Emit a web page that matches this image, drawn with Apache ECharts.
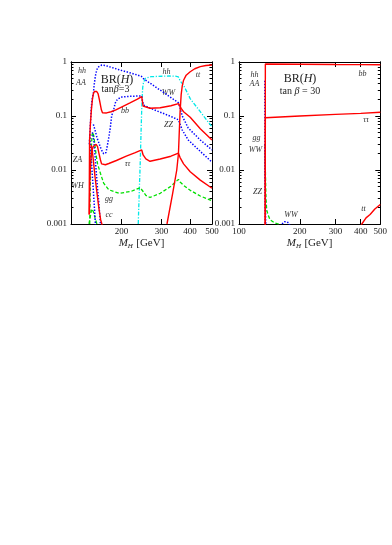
<!DOCTYPE html>
<html>
<head>
<meta charset="utf-8">
<script src="https://cdn.jsdelivr.net/npm/echarts@6/dist/echarts.min.js"></script>
<style>
html, body { margin: 0; padding: 0; background: #fff; }
#chart { width: 392px; height: 545px; }
</style>
</head>
<body>
<div id="chart"></div>
<script>
// tick values
const xTicksLeft = [200, 300, 400, 500];
const xTicksRight = [100, 200, 300, 400, 500];
const yMajor = [0.001, 0.01, 0.1, 1];
const yMinor = [0.002, 0.003, 0.004, 0.005, 0.006, 0.007, 0.008, 0.009,
  0.02, 0.03, 0.04, 0.05, 0.06, 0.07, 0.08, 0.09,
  0.2, 0.3, 0.4, 0.5, 0.6, 0.7, 0.8, 0.9];

// left panel, tan(beta) = 3 : [M_H, BR]
const bbL = [[144.2,0.0015],[144.8,0.035],[146,0.07],[147.5,0.13],[149,0.2],[150.5,0.26],[152,0.285],[153.6,0.29],[155.5,0.285],[157.8,0.26],[160,0.2],[163.2,0.13],[165,0.115],[167.2,0.112],[172,0.114],[180,0.12],[188,0.128],[201,0.148],[218,0.175],[235,0.205],[245.5,0.228],[247,0.19],[249,0.152],[267,0.139],[296,0.142],[330,0.155],[356,0.17],[360,0.16],[366,0.138],[375,0.12],[401,0.095],[444,0.058],[500,0.036]];
const tauL = [[144.5,0.0015],[145.2,0.006],[146.5,0.015],[148,0.022],[150,0.027],[152,0.029],[154.7,0.03],[157,0.027],[159,0.021],[161.6,0.0155],[163.5,0.013],[165.6,0.0124],[170,0.0125],[176,0.0132],[190,0.015],[210,0.018],[230,0.021],[245.5,0.0235],[249,0.019],[256,0.016],[267,0.0145],[296,0.016],[330,0.018],[356,0.0205],[362,0.017],[375,0.013],[401,0.0093],[444,0.0065],[500,0.0046]];
const ttL = [[317,0.001],[335,0.0035],[350,0.01],[356,0.02],[359,0.05],[362,0.12],[366,0.25],[370,0.36],[375,0.46],[385,0.57],[401,0.66],[420,0.75],[444,0.82],[470,0.86],[500,0.88]];
const redFallL = [[147,0.029],[149,0.022],[151,0.013],[153,0.0075],[156,0.0038],[159,0.002],[162,0.0012],[164,0.001],[166,0.0008]];
const wwL = [[144.5,0.03],[146,0.07],[147.5,0.15],[148.5,0.2],[150.5,0.263],[152,0.4],[153.6,0.55],[155.5,0.7],[157.5,0.8],[160,0.86],[164,0.88],[170,0.86],[180,0.8],[195,0.72],[210,0.66],[230,0.59],[245,0.54],[250,0.49],[255,0.464],[300,0.29],[356,0.176],[362,0.14],[370,0.1],[393,0.06],[444,0.036],[500,0.0235]];
const zzL = [[150.5,0.07],[153,0.055],[156,0.04],[159,0.032],[163,0.024],[167,0.02],[171,0.021],[173,0.027],[176,0.04],[178.8,0.063],[181,0.1],[185,0.135],[188,0.175],[192,0.205],[201,0.225],[220,0.232],[245.5,0.235],[247.5,0.19],[250,0.16],[267,0.14],[300,0.115],[330,0.098],[356,0.085],[370,0.055],[393,0.036],[450,0.021],[500,0.014]];
const zaL = [[145,0.045],[146,0.027],[148,0.012],[150,0.005],[152,0.0021],[153.6,0.001],[155,0.0006]];
const whL = [[149,0.05],[151,0.036],[153,0.018],[155,0.009],[157,0.0045],[159,0.0025],[161.6,0.001],[163,0.0007]];
const hhL = [[237,0.001],[239.5,0.004],[241.6,0.012],[243.5,0.04],[245,0.1],[246.5,0.22],[248,0.34],[250,0.42],[255,0.5],[270,0.535],[300,0.545],[324,0.55],[345,0.545],[356,0.53],[362,0.45],[375,0.37],[393,0.25],[401,0.21],[444,0.12],[500,0.063]];
const ggL = [[145,0.001],[146,0.006],[147,0.02],[148.5,0.045],[150,0.05],[151.5,0.04],[153,0.028],[155,0.018],[157,0.013],[161.6,0.0087],[167,0.0057],[176,0.0043],[195,0.0037],[220,0.004],[241.6,0.0047],[245.5,0.0049],[249,0.004],[256,0.0034],[267,0.0031],[296,0.0037],[330,0.005],[356,0.0067],[362,0.006],[375,0.0052],[401,0.0042],[444,0.0033],[500,0.0027]];
const ccL = [[142.6,0.0008],[145,0.0012],[148,0.0019],[150.5,0.0017],[153,0.0013],[156,0.001],[158,0.0008]];

// right panel, tan(beta) = 30
const bbR = [[134.8,0.0005],[135,0.918],[200,0.91],[300,0.9],[400,0.895],[500,0.89]];
const tauR = [[134.8,0.0005],[135,0.093],[200,0.1],[300,0.107],[400,0.112],[500,0.117]];
const ttR = [[396,0.0008],[405,0.001],[425,0.0013],[445,0.0015],[470,0.0019],[500,0.0023]];
const hhR = [[134.2,0.45],[134.4,0.05],[134.6,0.005],[134.8,0.0005]];
const wwR = [[134.3,0.03],[134.8,0.005],[135.5,0.0012],[137,0.0006],[150,0.0006],[160,0.00085],[163,0.001],[168,0.0011],[172,0.0011],[176,0.00105],[179,0.001],[182,0.0008]];
const ggR = [[134.6,0.03],[135.2,0.008],[136,0.003],[137.1,0.0018],[140,0.0014],[142.4,0.0012],[150,0.00105],[156.5,0.001],[162,0.0009]];

const SERIF = 'Liberation Serif';
const RED = '#ff0000', BLUE = '#0000ff', CYAN = '#00e8e8', GREEN = '#00e000';

const chart = echarts.init(document.getElementById('chart'), null, { renderer: 'canvas' });

function xAxes(grid, min, ticks) {
  const base = {
    type: 'log', logBase: 10, gridIndex: grid, min: min, max: 500,
    axisLine: { show: true, lineStyle: { color: '#000', width: 1 } },
    axisTick: { show: true, inside: true, length: 5, customValues: ticks, lineStyle: { color: '#000' } },
    splitLine: { show: false }, minorTick: { show: false }
  };
  return [
    Object.assign({}, base, {
      position: 'bottom',
      axisLabel: { show: true, customValues: ticks, margin: 3, fontFamily: SERIF, fontSize: 9, color: '#222' },
      name: '{i|M}{s|H} {n|[GeV]}', nameLocation: 'middle', nameGap: 12,
      nameTextStyle: {
        rich: {
          i: { fontFamily: SERIF, fontStyle: 'italic', fontSize: 11, color: '#222' },
          s: { fontFamily: SERIF, fontStyle: 'italic', fontSize: 7, color: '#222', padding: [6, 0, 0, 0] },
          n: { fontFamily: SERIF, fontSize: 11, color: '#222' }
        }
      }
    }),
    Object.assign({}, base, { position: 'top', axisLabel: { show: false } })
  ];
}

function yAxes(grid) {
  const base = {
    type: 'log', logBase: 10, gridIndex: grid, min: 0.001, max: 1,
    axisLine: { show: true, lineStyle: { color: '#000', width: 1 } },
    splitLine: { show: false }, minorTick: { show: false }
  };
  return [
    Object.assign({}, base, {
      position: 'left',
      axisTick: { inside: true, length: 5, customValues: yMajor, lineStyle: { color: '#000' } },
      axisLabel: { show: true, customValues: yMajor, margin: 4, fontFamily: SERIF, fontSize: 9, color: '#222' }
    }),
    Object.assign({}, base, {
      position: 'left',
      axisTick: { inside: true, length: 2.5, customValues: yMinor, lineStyle: { color: '#000' } },
      axisLabel: { show: false }
    }),
    Object.assign({}, base, {
      position: 'right',
      axisTick: { inside: true, length: 5, customValues: yMajor, lineStyle: { color: '#000' } },
      axisLabel: { show: false }
    }),
    Object.assign({}, base, {
      position: 'right',
      axisTick: { inside: true, length: 2.5, customValues: yMinor, lineStyle: { color: '#000' } },
      axisLabel: { show: false }
    })
  ];
}

function line(name, data, panel, color, type, width) {
  return {
    name: name, type: 'line', data: data,
    xAxisIndex: panel * 2, yAxisIndex: panel * 4,
    showSymbol: false, symbol: 'none', clip: true, silent: true,
    lineStyle: { color: color, type: type, width: width }
  };
}

const DOT = [1.4, 1.6], DASH = [3.5, 2], DASHDOT = [4, 1.6, 1.2, 1.6];

const series = [
  line('hh', hhL, 0, CYAN, DASHDOT, 1.3),
  line('gg', ggL, 0, GREEN, DASH, 1.3),
  line('cc', ccL, 0, GREEN, DASH, 1.3),
  line('WW', wwL, 0, BLUE, DOT, 1.5),
  line('ZZ', zzL, 0, BLUE, DOT, 1.5),
  line('ZA', zaL, 0, BLUE, DOT, 1.5),
  line('WH', whL, 0, BLUE, DOT, 1.5),
  line('bb', bbL, 0, RED, 'solid', 1.4),
  line('tautau', tauL, 0, RED, 'solid', 1.4),
  line('ss', redFallL, 0, RED, 'solid', 1.4),
  line('tt', ttL, 0, RED, 'solid', 1.4),
  line('gg', ggR, 1, GREEN, DASH, 1.3),
  line('WW', wwR, 1, BLUE, DOT, 1.5),
  line('hh', hhR, 1, BLUE, DOT, 1.5),
  line('bb', bbR, 1, RED, 'solid', 1.4),
  line('tautau', tauR, 1, RED, 'solid', 1.4),
  line('tt', ttR, 1, RED, 'solid', 1.4)
];

// annotation texts (pixel centres)
const tags = [
  ['hh', 82, 71], ['AA', 81, 83], ['bb', 125, 111], ['hh', 166.5, 72], ['tt', 198, 74.5],
  ['WW', 168.5, 92.5], ['ZZ', 168.5, 125], ['ZA', 77.5, 159.5], ['ττ', 127.5, 164],
  ['WH', 77.5, 186], ['gg', 109, 199], ['cc', 109, 214.5],
  ['hh', 254.5, 74.5], ['AA', 254.5, 84], ['bb', 362.5, 74], ['ττ', 366, 119.5],
  ['gg', 256.5, 137.5], ['WW', 255.5, 149.5], ['ZZ', 257.5, 192], ['WW', 291, 214.5],
  ['tt', 363.5, 208.5]
];

const richTitle = {
  n: { fontFamily: SERIF, fontSize: 12, fill: '#222' },
  i: { fontFamily: SERIF, fontSize: 12, fontStyle: 'italic', fill: '#222' },
  m: { fontFamily: SERIF, fontSize: 10, fill: '#222' },
  b: { fontFamily: SERIF, fontSize: 10, fontStyle: 'italic', fill: '#222' }
};

const graphic = tags.map(function (t) {
  return {
    type: 'text', x: t[1], y: t[2], silent: true,
    style: { text: t[0], fontFamily: SERIF, fontStyle: 'italic', fontSize: 8, fill: '#333', align: 'center', verticalAlign: 'middle' }
  };
}).concat([
  { type: 'text', x: 117, y: 79.5, style: { text: '{n|BR(}{i|H}{n|)}', rich: richTitle, align: 'center', verticalAlign: 'middle' } },
  { type: 'text', x: 115.5, y: 89, style: { text: '{m|tan}{b|β}{m|=3}', rich: richTitle, align: 'center', verticalAlign: 'middle' } },
  { type: 'text', x: 300, y: 79, style: { text: '{n|BR(}{i|H}{n|)}', rich: richTitle, align: 'center', verticalAlign: 'middle' } },
  { type: 'text', x: 300, y: 91.5, style: { text: '{m|tan }{b|β}{m| = 30}', rich: richTitle, align: 'center', verticalAlign: 'middle' } }
]);

chart.setOption({
  animation: false,
  backgroundColor: '#fff',
  grid: [
    { left: 71, top: 62, width: 141, height: 162 },
    { left: 239, top: 62, width: 141.3, height: 162 }
  ],
  xAxis: xAxes(0, 120, xTicksLeft).concat(xAxes(1, 100, xTicksRight)),
  yAxis: yAxes(0).concat(yAxes(1)),
  series: series,
  graphic: graphic
});
</script>
</body>
</html>
